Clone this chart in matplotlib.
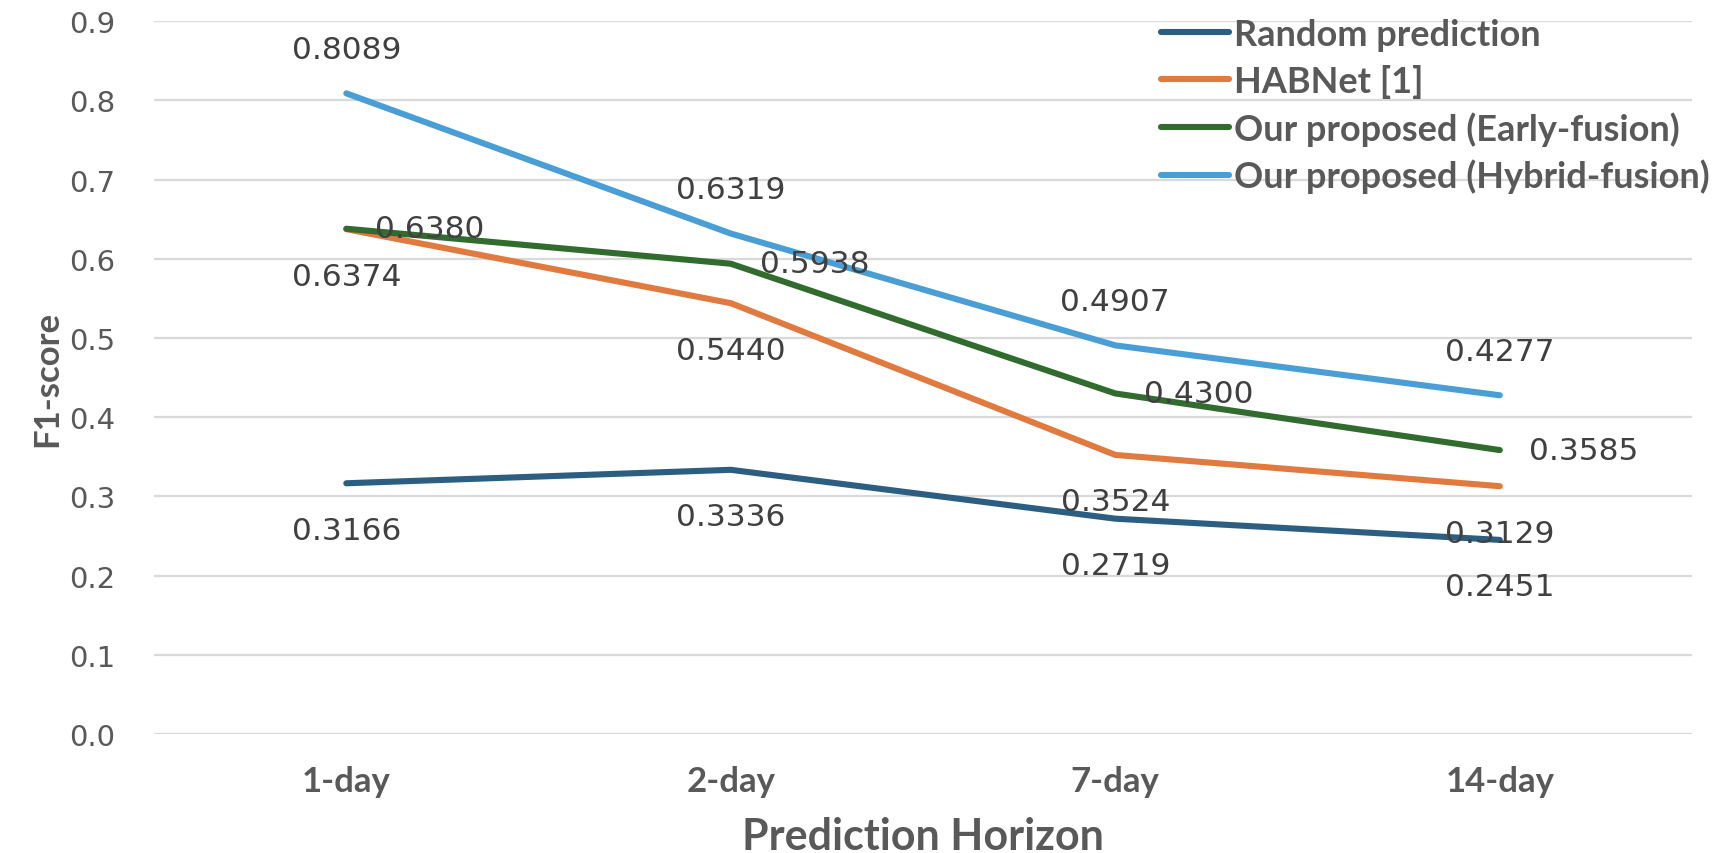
import matplotlib
matplotlib.use("Agg")
import matplotlib.pyplot as plt

horizons = ["1-day", "2-day", "7-day", "14-day"]
random_pred = [0.3166, 0.3336, 0.2719, 0.2451]
habnet = [0.6374, 0.5440, 0.3524, 0.3129]
early_fusion = [0.6380, 0.5938, 0.4300, 0.3585]
hybrid_fusion = [0.8089, 0.6319, 0.4907, 0.4277]

series = [
    ("Random prediction", random_pred, "#2C5E82", "below"),
    ("HABNet [1]", habnet, "#E07A3F", "below"),
    ("Our proposed (Early-fusion)", early_fusion, "#316B2E", "right"),
    ("Our proposed (Hybrid-fusion)", hybrid_fusion, "#4A9ED6", "above"),
]

bold_font = "Lato"
num_font = "DejaVu Sans"

fig = plt.figure(figsize=(17.31, 8.54), dpi=100)
ax = fig.add_axes([0.089, 0.1393, 0.8885, 0.8347])

x = list(range(len(horizons)))
for name, vals, col, pos in series:
    ax.plot(x, vals, color=col, lw=4.4, solid_capstyle="round",
            solid_joinstyle="round", label=name, zorder=3)
    for xi, v in zip(x, vals):
        if pos == "above":
            off, ha, va = (0, 44), "center", "center"
        elif pos == "below":
            off, ha, va = (0, -47), "center", "center"
        else:
            off, ha, va = (29, 0), "left", "center"
        ax.annotate("%.4f" % v, (xi, v), xytext=off, textcoords="offset pixels",
                    ha=ha, va=va, fontsize=22.5, color="#404040",
                    family=num_font, zorder=4)

ax.set_xlim(-0.5, len(horizons) - 0.5)
ax.set_ylim(0, 0.9)
ax.set_yticks([i / 10 for i in range(10)])
ax.set_yticklabels(["%.1f" % (i / 10) for i in range(10)], fontsize=21,
                   color="#595959", family=num_font)
ax.set_xticks(x)
ax.set_xticklabels(horizons, fontsize=25, color="#595959", family=bold_font,
                   fontweight="bold")
ax.tick_params(axis="y", length=0, pad=28)
ax.tick_params(axis="x", length=0, pad=22)
ax.grid(axis="y", color="#D9D9D9", lw=1.6, zorder=0)
for s in ax.spines.values():
    s.set_visible(False)

ax.set_xlabel("Prediction Horizon", fontsize=31, color="#595959",
              family=bold_font, fontweight="bold", labelpad=14)
ax.set_ylabel("F1-score", fontsize=25, color="#595959", family=bold_font,
              fontweight="bold", labelpad=4)

leg = ax.legend(loc="upper left", bbox_to_anchor=(0.638, 1.04), frameon=False,
                prop={"family": bold_font, "weight": "bold", "size": 26},
                handlelength=1.9, handletextpad=0.14, labelspacing=0.36,
                borderpad=0.2)
for t in leg.get_texts():
    t.set_color("#595959")

fig.savefig("out.png", dpi=100)
